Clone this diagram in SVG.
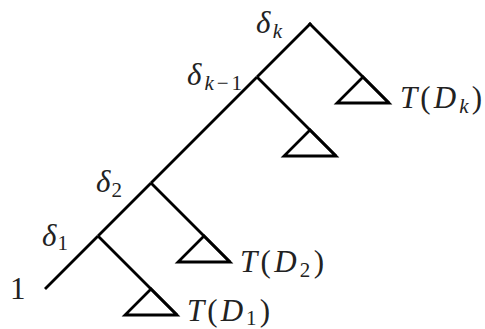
<svg xmlns="http://www.w3.org/2000/svg" width="485" height="329" viewBox="0 0 485 329">
<style>
.e{stroke:#000;stroke-width:2.8;fill:none;stroke-linecap:butt}
.t{stroke:#000;stroke-width:2.8;fill:none;stroke-linejoin:miter}
.l{font-family:"Liberation Serif","DejaVu Serif",serif;font-size:31px;fill:#222}
.i{font-style:italic}
.s{font-size:21px}
</style>
<rect width="485" height="329" fill="#fff"/>
<g id="connectors">
<line class="e" x1="45" y1="289" x2="98" y2="236"/>
<line class="e" x1="98" y1="236" x2="151" y2="183"/>
<line class="e" x1="151" y1="183" x2="257" y2="77"/>
<line class="e" x1="257" y1="77" x2="311" y2="23"/>
<line class="e" x1="309" y1="23" x2="389" y2="103"/>
<line class="e" x1="257" y1="77" x2="336" y2="156"/>
<line class="e" x1="151" y1="183" x2="230" y2="262"/>
<line class="e" x1="98" y1="236" x2="177" y2="315"/>
</g>
<g id="node-dk">
<text class="l" x="256" y="33" textLength="26" lengthAdjust="spacing"><tspan class="i">δ</tspan><tspan class="i s" dy="5">k</tspan></text>
</g>
<g id="node-dk1">
<text class="l" x="187" y="85" textLength="55" lengthAdjust="spacing"><tspan class="i">δ</tspan><tspan class="s" dy="5"><tspan class="i">k</tspan>−1</tspan></text>
</g>
<g id="node-d2">
<text class="l" x="96" y="192" textLength="26" lengthAdjust="spacing"><tspan class="i">δ</tspan><tspan class="s" dy="5">2</tspan></text>
</g>
<g id="node-d1">
<text class="l" x="42" y="246" textLength="26" lengthAdjust="spacing"><tspan class="i">δ</tspan><tspan class="s" dy="4">1</tspan></text>
</g>
<g id="node-root">
<text class="l" x="10" y="299">1</text>
</g>
<g id="subtree-dk">
<polygon class="t" points="363,77 337,103 389,103"/>
<text class="l" x="400" y="108" textLength="82" lengthAdjust="spacing"><tspan class="i">T</tspan>(<tspan class="i">D</tspan><tspan class="i s" dy="5">k</tspan><tspan dy="-5">)</tspan></text>
</g>
<g id="subtree-dk1">
<polygon class="t" points="310,130 284,156 336,156"/>
</g>
<g id="subtree-d2">
<polygon class="t" points="204,236 178,262 230,262"/>
<text class="l" x="240" y="272" textLength="84" lengthAdjust="spacing"><tspan class="i">T</tspan>(<tspan class="i">D</tspan><tspan class="s" dy="5">2</tspan><tspan dy="-5">)</tspan></text>
</g>
<g id="subtree-d1">
<polygon class="t" points="151,289 125,315 177,315"/>
<text class="l" x="187" y="321" textLength="83" lengthAdjust="spacing"><tspan class="i">T</tspan>(<tspan class="i">D</tspan><tspan class="s" dy="4">1</tspan><tspan dy="-4">)</tspan></text>
</g>
</svg>
